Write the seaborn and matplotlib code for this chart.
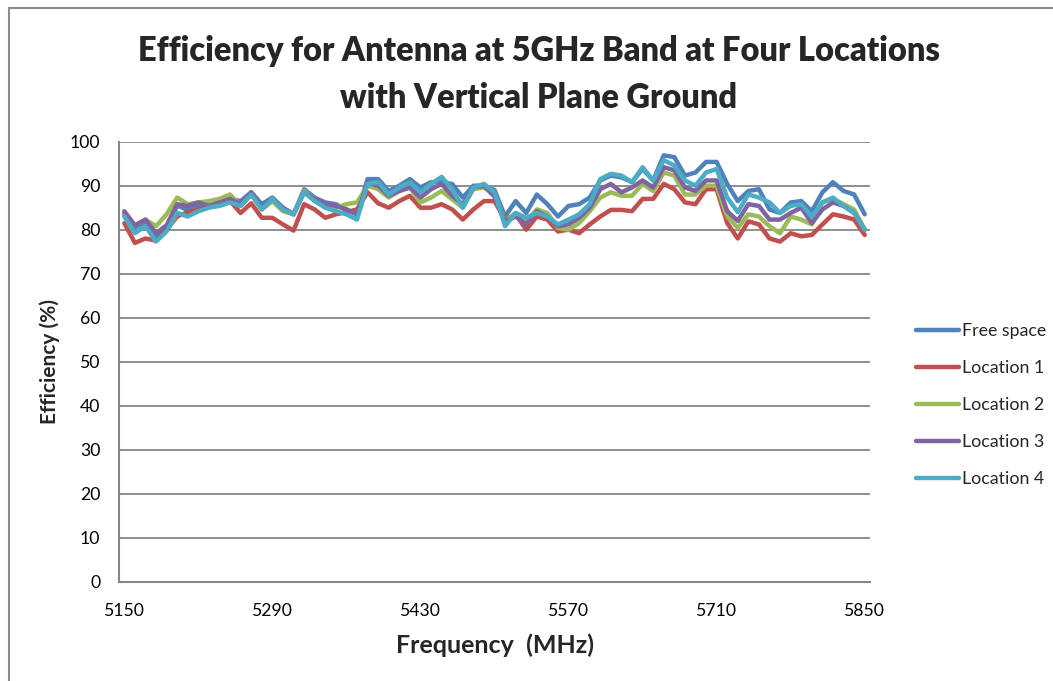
import matplotlib
matplotlib.use("Agg")
import matplotlib.pyplot as plt
from matplotlib.patches import Rectangle
import numpy as np
import pandas as pd
import seaborn as sns

# Frequency sweep, 10 MHz steps
freq = list(range(5150, 5851, 10))

free_space = [83.5, 80.5, 81.8, 78.5, 80.5, 85.5, 84.5, 85.5, 85.5, 86.0,
              87.0, 86.5, 88.5, 85.8, 87.3, 85.0, 83.5, 89.2, 87.3, 86.2,
              85.8, 84.6, 83.5, 91.5, 91.5, 88.8, 90.0, 91.5, 89.6, 90.8,
              90.8, 90.4, 87.3, 90.0, 90.0, 89.0, 83.0, 86.5, 83.8, 88.0,
              85.8, 83.0, 85.4, 85.8, 87.3, 91.2, 92.3, 91.9, 90.8, 93.8,
              91.2, 96.9, 96.5, 92.3, 93.0, 95.4, 95.4, 90.4, 86.5, 88.8,
              89.2, 84.6, 83.8, 86.2, 86.5, 84.2, 88.5, 90.8, 88.8, 88.0,
              83.5]

location_1 = [81.5, 77.0, 78.0, 77.5, 80.0, 83.0, 84.0, 84.6, 85.4, 85.8,
              86.5, 83.8, 86.0, 82.7, 82.7, 81.2, 79.8, 85.8, 84.6, 82.7,
              83.5, 84.0, 84.6, 88.5, 86.0, 85.0, 86.5, 87.7, 85.0, 85.0,
              85.8, 84.6, 82.3, 84.6, 86.5, 86.5, 82.3, 83.5, 80.0, 83.0,
              82.3, 79.6, 80.0, 79.2, 81.2, 83.0, 84.5, 84.5, 84.2, 87.0,
              87.0, 90.4, 89.2, 86.2, 85.8, 89.2, 89.2, 81.5, 78.0, 81.9,
              81.2, 78.0, 77.3, 79.2, 78.5, 78.8, 81.2, 83.5, 83.0, 82.3,
              78.8]

location_2 = [84.0, 81.0, 82.3, 80.8, 83.5, 87.3, 85.8, 86.2, 86.5, 87.0,
              88.0, 85.4, 88.0, 84.6, 86.5, 84.2, 83.5, 88.8, 87.0, 85.4,
              85.0, 85.8, 86.2, 90.0, 89.2, 87.3, 88.8, 89.6, 86.2, 87.3,
              88.8, 86.9, 85.0, 89.2, 89.6, 88.0, 81.9, 83.8, 81.9, 84.6,
              83.8, 80.4, 80.0, 81.5, 84.2, 87.3, 88.5, 87.7, 87.7, 90.4,
              88.8, 93.0, 92.3, 88.0, 88.0, 90.0, 90.0, 83.0, 80.4, 83.5,
              83.0, 80.8, 79.2, 83.0, 82.3, 81.2, 86.2, 87.0, 85.8, 84.6,
              80.0]

location_3 = [84.2, 81.0, 82.3, 79.2, 81.0, 85.8, 85.4, 86.2, 85.4, 86.2,
              87.0, 85.8, 88.5, 85.0, 87.0, 85.0, 83.5, 88.5, 87.0, 85.8,
              85.4, 84.6, 83.5, 90.6, 90.0, 87.7, 88.8, 89.6, 87.3, 89.2,
              90.4, 87.7, 85.8, 89.6, 90.0, 87.5, 81.9, 83.0, 81.2, 84.2,
              83.0, 80.8, 81.2, 82.7, 85.0, 89.2, 90.4, 88.5, 89.6, 91.2,
              89.6, 94.2, 93.5, 89.6, 88.8, 91.2, 91.2, 84.2, 82.0, 85.8,
              85.4, 82.3, 82.3, 83.8, 85.0, 81.5, 84.6, 86.2, 85.4, 83.8,
              80.0]

location_4 = [83.0, 79.2, 80.8, 77.3, 79.6, 83.8, 83.0, 84.2, 85.0, 85.4,
              86.2, 85.4, 88.0, 84.6, 87.0, 84.6, 83.5, 88.5, 86.5, 85.0,
              84.2, 83.5, 82.3, 90.4, 90.8, 88.0, 89.6, 90.8, 88.5, 90.4,
              92.0, 89.2, 85.0, 89.6, 90.4, 88.5, 80.8, 83.8, 82.7, 83.8,
              83.0, 81.2, 82.3, 83.5, 85.8, 91.5, 92.7, 92.3, 90.8, 94.2,
              91.2, 95.8, 94.6, 91.2, 90.0, 93.0, 93.8, 87.3, 84.0, 88.0,
              87.3, 86.2, 83.8, 85.4, 85.8, 83.0, 86.2, 87.3, 85.4, 83.8,
              80.0]

series_names = ["Free space", "Location 1", "Location 2", "Location 3", "Location 4"]
series_values = [free_space, location_1, location_2, location_3, location_4]
x_ticks = [5150, 5290, 5430, 5570, 5710, 5850]
y_ticks = list(range(0, 101, 10))

colors = ["#4F81BD", "#C0504D", "#9BBB59", "#8064A2", "#4BACC6"]

df = pd.concat(
    [pd.DataFrame({"Frequency": freq, "Efficiency": vals, "Series": name})
     for name, vals in zip(series_names, series_values)],
    ignore_index=True,
)

sns.set_theme(style="white")
plt.rcParams["font.family"] = ["Lato", "DejaVu Sans"]

W, H = 1053, 681
fig = plt.figure(figsize=(W / 100, H / 100), dpi=100)
ax = fig.add_axes([119 / W, 1 - 581.7 / H, (870 - 119) / W, (581.7 - 141.7) / H])

# outer chart frame
fig.patches.append(Rectangle((9 / W, -0.05), 1.2, 1 - 8 / H + 0.05,
                             transform=fig.transFigure, fill=False,
                             edgecolor="#8C8C8C", linewidth=1.5, zorder=0))

sns.lineplot(data=df, x="Frequency", y="Efficiency", hue="Series",
             hue_order=series_names, palette=colors, linewidth=3.2,
             ax=ax, legend=True)

# categories sit between tick marks: half a step of padding on each side
ax.set_xlim(5145, 5855)
ax.set_ylim(0, 100)
ax.set_xticks(x_ticks)
ax.set_yticks(y_ticks)
ax.tick_params(axis="x", labelsize=12.7, colors="#000000", length=0, pad=15)
ax.tick_params(axis="y", labelsize=12.7, labelcolor="#000000", length=5,
               color="#868686", width=1.3, direction="out", pad=8.5)
ax.yaxis.grid(True, color="#868686", linewidth=1.3)
ax.set_axisbelow(True)
for side in ["top", "right"]:
    ax.spines[side].set_visible(False)
for side in ["left", "bottom"]:
    ax.spines[side].set_color("#868686")
    ax.spines[side].set_linewidth(1.5)

ax.set_xlabel("Frequency  (MHz)", fontsize=18, fontweight="bold", labelpad=11)
ax.set_ylabel("Efficiency (%)", fontsize=15, fontweight="bold", labelpad=7)

fig.suptitle("Efficiency for Antenna at 5GHz Band at Four Locations\nwith Vertical Plane Ground",
             x=539 / W, y=1 - 35 / H, fontsize=23.5, fontweight="heavy",
             linespacing=1.58, va="top")

handles, labels = ax.get_legend_handles_labels()
ax.legend(handles, labels, loc="center left", bbox_to_anchor=(0.855, 0.405),
          bbox_transform=fig.transFigure, frameon=False, fontsize=12.8,
          handlelength=2.42, handletextpad=0.15, labelspacing=1.18)

fig.savefig("out.png", dpi=100)
